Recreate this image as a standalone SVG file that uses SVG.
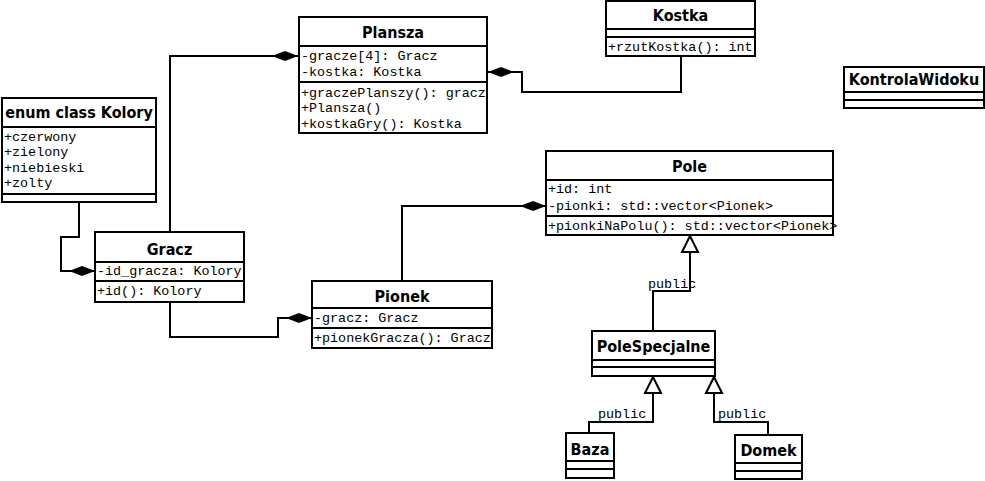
<svg xmlns="http://www.w3.org/2000/svg" width="985" height="481" viewBox="0 0 985 481">
<style>
.box{fill:#fff;stroke:#000;stroke-width:2}
.dv{stroke:#000;stroke-width:2}
.t{font-family:"DejaVu Sans Condensed","DejaVu Sans",sans-serif;font-stretch:condensed;font-weight:bold;font-size:16px;text-anchor:middle;fill:#000}
.m{font-family:"Liberation Mono","Courier New",monospace;font-size:13.4px;fill:#000}
.c{fill:none;stroke:#000;stroke-width:2}
</style>
<defs>
<marker id="dia" markerUnits="userSpaceOnUse" viewBox="-28 -6 29 12" markerWidth="29" markerHeight="12" refX="0" refY="0" orient="auto">
<path d="M0,0 L-13,-5 L-26,0 L-13,5 Z" fill="#000"/>
</marker>
<marker id="tri" markerUnits="userSpaceOnUse" viewBox="-18 -10 20 20" markerWidth="20" markerHeight="20" refX="0" refY="0" orient="auto">
<path d="M0,0 L-16,-8 L-16,8 Z" fill="#fff" stroke="#000" stroke-width="2"/>
</marker>
</defs>
<g id="connectors">
<path class="c" d="M170,232 L170,56 L298,56" marker-end="url(#dia)"/>
<path class="c" d="M681,56 L681,92 L522,92 L522,72 L488,72" marker-end="url(#dia)"/>
<path class="c" d="M79,202 L79,237 L61,237 L61,271 L95,271" marker-end="url(#dia)"/>
<path class="c" d="M170,302 L170,337 L278,337 L278,318 L312,318" marker-end="url(#dia)"/>
<path class="c" d="M402,281 L402,206 L546,206" marker-end="url(#dia)"/>
<path class="c" d="M653,331 L653,291 L690,291 L690,236" marker-end="url(#tri)"/>
<path class="c" d="M589,433 L589,422 L653,422 L653,377" marker-end="url(#tri)"/>
<path class="c" d="M768,435 L768,422 L714,422 L714,377" marker-end="url(#tri)"/>
<text class="m" x="648" y="288">public</text>
<text class="m" x="598" y="418">public</text>
<text class="m" x="718" y="418">public</text>
</g>
<g id="Plansza">
<rect class="box" x="299" y="17" width="188" height="116"/>
<line class="dv" x1="299" y1="46" x2="487" y2="46"/>
<line class="dv" x1="299" y1="82" x2="487" y2="82"/>
<text class="t" x="393" y="38">Plansza</text>
<text class="m" x="301" y="60">-gracze[4]: Gracz</text>
<text class="m" x="301" y="75.5">-kostka: Kostka</text>
<text class="m" x="301" y="96.5">+graczePlanszy(): gracz</text>
<text class="m" x="301" y="112">+Plansza()</text>
<text class="m" x="301" y="127.5">+kostkaGry(): Kostka</text>
</g>
<g id="Kostka">
<rect class="box" x="606" y="1" width="149" height="55"/>
<line class="dv" x1="606" y1="29" x2="755" y2="29"/>
<line class="dv" x1="606" y1="37" x2="755" y2="37"/>
<text class="t" x="680.5" y="21">Kostka</text>
<text class="m" x="608" y="51">+rzutKostka(): int</text>
</g>
<g id="KontrolaWidoku">
<rect class="box" x="844" y="67" width="140" height="41"/>
<line class="dv" x1="844" y1="92" x2="984" y2="92"/>
<line class="dv" x1="844" y1="100" x2="984" y2="100"/>
<text class="t" x="914" y="85">KontrolaWidoku</text>
</g>
<g id="Kolory">
<rect class="box" x="2" y="98" width="154" height="104"/>
<line class="dv" x1="2" y1="127" x2="156" y2="127"/>
<line class="dv" x1="2" y1="194" x2="156" y2="194"/>
<text class="t" x="79" y="118">enum class Kolory</text>
<text class="m" x="4" y="140.5">+czerwony</text>
<text class="m" x="4" y="156">+zielony</text>
<text class="m" x="4" y="171.5">+niebieski</text>
<text class="m" x="4" y="187">+zolty</text>
</g>
<g id="Gracz">
<rect class="box" x="95" y="232" width="149" height="70"/>
<line class="dv" x1="95" y1="262" x2="244" y2="262"/>
<line class="dv" x1="95" y1="281" x2="244" y2="281"/>
<text class="t" x="169.5" y="255">Gracz</text>
<text class="m" x="97" y="275">-id_gracza: Kolory</text>
<text class="m" x="97" y="295">+id(): Kolory</text>
</g>
<g id="Pionek">
<rect class="box" x="312" y="281" width="180" height="67"/>
<line class="dv" x1="312" y1="308" x2="492" y2="308"/>
<line class="dv" x1="312" y1="328" x2="492" y2="328"/>
<text class="t" x="402" y="302">Pionek</text>
<text class="m" x="314" y="322">-gracz: Gracz</text>
<text class="m" x="314" y="342">+pionekGracza(): Gracz</text>
</g>
<g id="Pole">
<rect class="box" x="546" y="151" width="287" height="84"/>
<line class="dv" x1="546" y1="180" x2="833" y2="180"/>
<line class="dv" x1="546" y1="216" x2="833" y2="216"/>
<text class="t" x="689.5" y="172">Pole</text>
<text class="m" x="548" y="193">+id: int</text>
<text class="m" x="548" y="210">-pionki: std::vector&lt;Pionek&gt;</text>
<text class="m" x="548" y="230">+pionkiNaPolu(): std::vector&lt;Pionek&gt;</text>
</g>
<g id="PoleSpecjalne">
<rect class="box" x="592" y="331" width="123" height="45"/>
<line class="dv" x1="592" y1="360" x2="715" y2="360"/>
<line class="dv" x1="592" y1="367" x2="715" y2="367"/>
<text class="t" x="653.5" y="352">PoleSpecjalne</text>
</g>
<g id="Baza">
<rect class="box" x="566" y="433" width="48" height="45"/>
<line class="dv" x1="566" y1="461" x2="614" y2="461"/>
<line class="dv" x1="566" y1="469" x2="614" y2="469"/>
<text class="t" x="590" y="455">Baza</text>
</g>
<g id="Domek">
<rect class="box" x="735" y="435" width="67" height="44"/>
<line class="dv" x1="735" y1="463" x2="802" y2="463"/>
<line class="dv" x1="735" y1="471" x2="802" y2="471"/>
<text class="t" x="768.5" y="456">Domek</text>
</g>
</svg>
